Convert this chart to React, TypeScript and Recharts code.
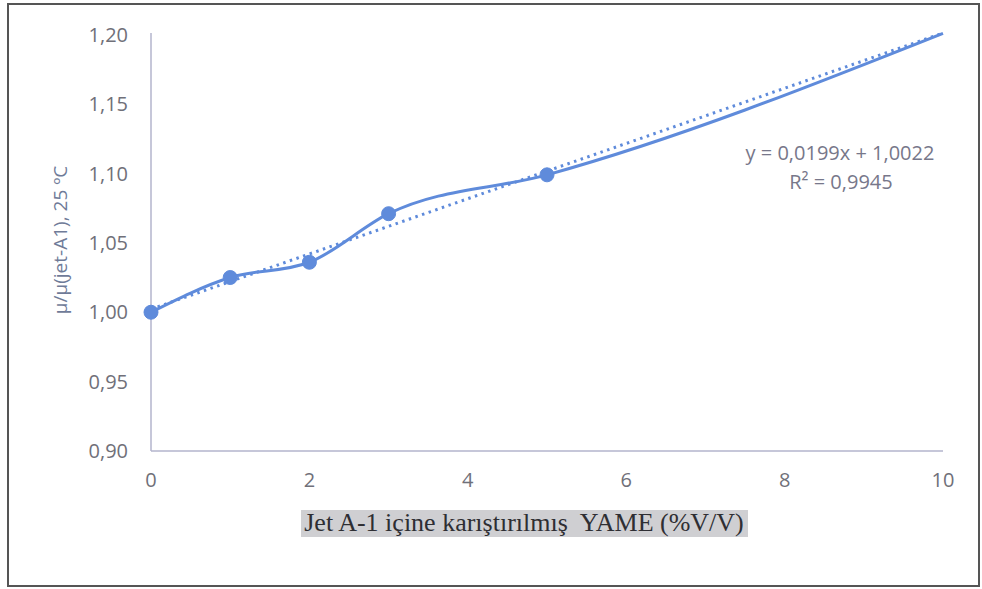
import { LineChart, Line, XAxis, YAxis } from 'recharts';

const X_VALUES = [0, 1, 2, 3, 5, 10];
const RATIO = [1.0, 1.025, 1.036, 1.071, 1.099, 1.201];
const TREND_X = [0, 10];
const TREND_Y = [1.0022, 1.2012];
const X_TICKS = [0, 2, 4, 6, 8, 10];
const Y_TICKS = [0.9, 0.95, 1.0, 1.05, 1.1, 1.15, 1.2];

const measured = X_VALUES.map((x, i) => ({ x, ratio: RATIO[i] }));
const trend = TREND_X.map((x, i) => ({ x, trend: TREND_Y[i] }));

const BLUE = '#5f8bdb';
const TICK = { fill: '#707079', fontSize: 20, fontFamily: 'Open Sans' };

// last point has no marker in the original
const renderDot = (props: any) => {
  const { cx, cy, index } = props;
  if (index === X_VALUES.length - 1) return <g key={`d${index}`} />;
  return <circle key={`d${index}`} cx={cx} cy={cy} r={7} fill={BLUE} stroke={BLUE} />;
};

export default function App() {
  return (
    <div style={{ position: 'fixed', left: 0, top: 0, width: 982, height: 589, background: '#fff' }}>
      <div
        style={{
          position: 'absolute',
          left: 7,
          top: 3,
          width: 969,
          height: 580,
          border: '2px solid #555',
        }}
      />
      <LineChart
        width={982}
        height={589}
        margin={{ top: 33, right: 39, left: 91, bottom: 98 }}
        style={{ position: 'absolute', left: 0, top: 0 }}
      >
        <XAxis
          type="number"
          dataKey="x"
          domain={[0, 10]}
          ticks={X_TICKS}
          tick={TICK}
          tickLine={false}
          tickMargin={16}
          height={40}
          axisLine={{ stroke: '#b3b4cc', strokeWidth: 1.5 }}
        />
        <YAxis
          type="number"
          domain={[0.9, 1.2]}
          ticks={Y_TICKS}
          tick={TICK}
          tickFormatter={(v: number) => v.toFixed(2).replace('.', ',')}
          tickLine={false}
          tickMargin={17}
          width={60}
          axisLine={{ stroke: '#b3b4cc', strokeWidth: 1.5 }}
        />
        <Line
          data={trend}
          dataKey="trend"
          stroke={BLUE}
          strokeWidth={3}
          strokeDasharray="2.5 4.5"
          dot={false}
          isAnimationActive={false}
        />
        <Line
          data={measured}
          dataKey="ratio"
          type="monotone"
          stroke={BLUE}
          strokeWidth={3}
          dot={renderDot}
          activeDot={false}
          isAnimationActive={false}
        />
        <text
          x={62}
          y={240}
          transform="rotate(-90 62 240)"
          textAnchor="middle"
          dominantBaseline="middle"
          fontFamily="Open Sans"
          fontSize={19}
          fill="#6f7b98"
        >
          μ/μ(jet-A1),  25 ºC
        </text>
        <text x={840} y={160} textAnchor="middle" fontFamily="Open Sans" fontSize={20} fill="#77778a">
          y = 0,0199x + 1,0022
        </text>
        <text x={841} y={189} textAnchor="middle" fontFamily="Open Sans" fontSize={20} fill="#77778a">
          R² = 0,9945
        </text>
        <rect x={301} y={510} width={447} height={27} fill="#cfcfd2" />
        <text x={524} y={531} textAnchor="middle" fontFamily="Liberation Serif" fontSize={26} fill="#2e2e33" xmlSpace="preserve">
          Jet A-1 içine karıştırılmış  YAME (%V/V)
        </text>
      </LineChart>
    </div>
  );
}
